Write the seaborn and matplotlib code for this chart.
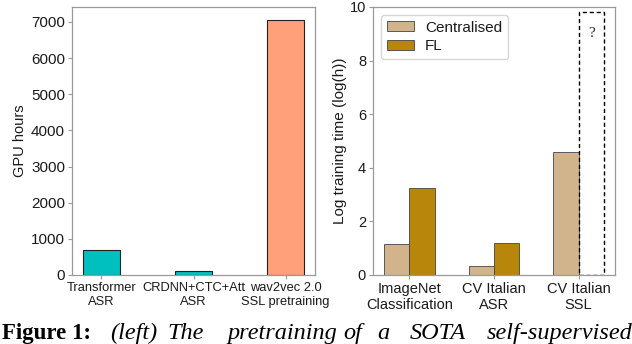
import numpy as np
import pandas as pd
import matplotlib
matplotlib.use("Agg")
import matplotlib.pyplot as plt
import seaborn as sns

# left panel data
models = ["Transformer\nASR", "CRDNN+CTC+Att\nASR", "wav2vec 2.0\nSSL pretraining"]
gpu_hours = [700, 120, 7050]
model_colors = ["#00BFBF", "#00BFBF", "#FFA07A"]

# right panel data
tasks = ["ImageNet\nClassification", "CV Italian\nASR", "CV Italian\nSSL"]
centralised = [1.16, 0.34, 4.58]
fl = [3.24, 1.19, np.nan]
unknown_height = 9.8  # dashed "?" placeholder for FL SSL

sns.set_style("ticks")
plt.rcParams["font.family"] = ["Liberation Sans", "DejaVu Sans"]

fig = plt.figure(figsize=(6.32, 3.44), dpi=100)
ax1 = fig.add_axes([72 / 632, 69 / 344, 243 / 632, 268 / 344])
ax2 = fig.add_axes([373 / 632, 69 / 344, 242 / 632, 268 / 344])

spine_c = "#9a9a9a"
text_c = "#1a1a1a"

# left: GPU hours
df1 = pd.DataFrame({"model": models, "hours": gpu_hours})
sns.barplot(data=df1, x="model", y="hours", hue="model", palette=model_colors,
            saturation=1, width=0.4, edgecolor="#222222", linewidth=0.8,
            legend=False, ax=ax1)
ax1.set_xlim(-0.32, 2.32)
ax1.set_ylim(0, 7415)
ax1.set_yticks(range(0, 7001, 1000))
ax1.set_xlabel("")
ax1.set_ylabel("GPU hours", fontsize=10.5, color=text_c, labelpad=3)

# right: log training time
df2 = pd.DataFrame({
    "task": tasks * 2,
    "value": centralised + fl,
    "setting": ["Centralised"] * 3 + ["FL"] * 3,
})
sns.barplot(data=df2, x="task", y="value", hue="setting",
            palette=["#D2B48C", "#B8860B"], saturation=1, width=0.6,
            edgecolor="#444444", linewidth=0.6, ax=ax2)
ax2.bar(2 + 0.15, unknown_height, width=0.3, fill=False, edgecolor="black",
        linestyle=(0, (3, 2)), linewidth=1.0)
ax2.text(2 + 0.15, 9.0, "?", ha="center", va="center", fontsize=11,
         family="Liberation Serif")
ax2.set_xlim(-0.43, 2.43)
ax2.set_ylim(0, 10)
ax2.set_xlabel("")
ax2.set_ylabel("Log training time (log(h))", fontsize=11, color=text_c,
               labelpad=2)
leg = ax2.legend(loc="upper left", fontsize=11, frameon=True,
                 handlelength=1.8, handleheight=0.65, labelspacing=0.3,
                 handletextpad=0.7)
leg.get_frame().set_edgecolor("#cccccc")
for t in leg.get_texts():
    t.set_color(text_c)

for ax in (ax1, ax2):
    for s in ax.spines.values():
        s.set_color(spine_c)
        s.set_linewidth(0.9)
    ax.tick_params(axis="both", colors=spine_c, length=3, width=0.8,
                   labelcolor=text_c, pad=2)
ax1.tick_params(axis="y", labelsize=11)
ax1.tick_params(axis="x", labelsize=9.3)
ax2.tick_params(axis="y", labelsize=10.5)
ax2.tick_params(axis="x", labelsize=10.5)

# caption fragment at the bottom
cap_y = 5 / 344
fig.text(2 / 632, cap_y, "Figure 1:", fontsize=16.5, fontweight="bold",
         family="Liberation Serif", color="black", va="baseline")
words = ["(left)", "The", "pretraining", "of", "a", "SOTA", "self-supervised"]
word_x = [110, 167, 227, 343, 377, 410, 487]
for w, xpx in zip(words, word_x):
    fig.text(xpx / 632, cap_y, w, fontsize=17.5, style="italic",
             family="Liberation Serif", color="black", va="baseline")

fig.savefig("out.png", dpi=100)
